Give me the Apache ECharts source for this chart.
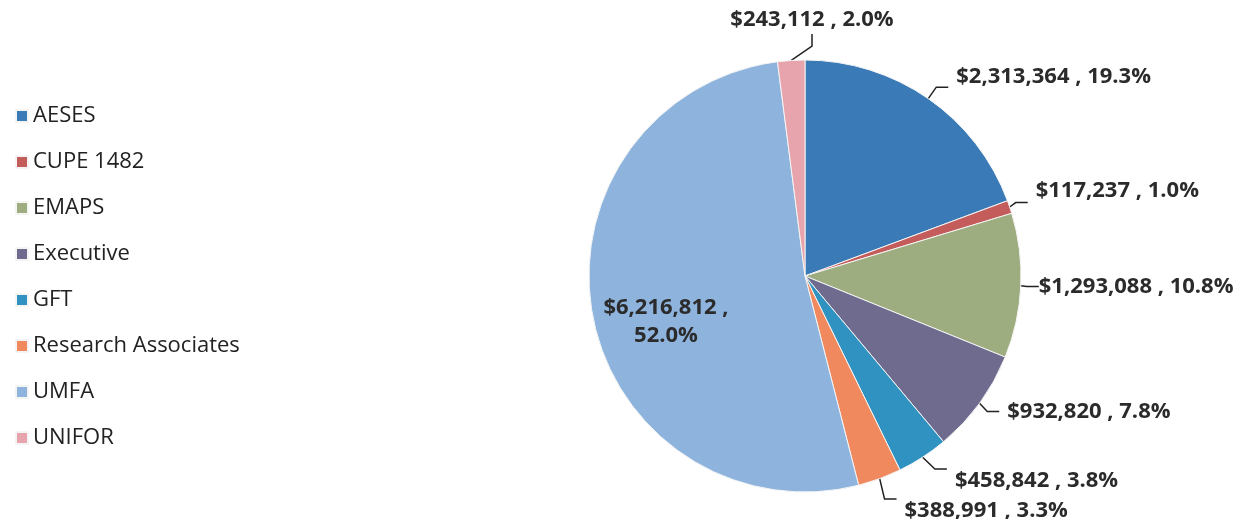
<!DOCTYPE html>
<html>
<head>
<meta charset="utf-8">
<script src="https://cdn.jsdelivr.net/npm/echarts@6/dist/echarts.min.js"></script>
<style>
  html, body { margin: 0; padding: 0; background: #fff; }
  #chart { width: 1248px; height: 519px; }
</style>
</head>
<body>
<div id="chart"></div>
<script>
const categories = ['AESES', 'CUPE 1482', 'EMAPS', 'Executive', 'GFT', 'Research Associates', 'UMFA', 'UNIFOR'];
const amounts = [2313364, 117237, 1293088, 932820, 458842, 388991, 6216812, 243112];
const colors = ['#3a7ab6', '#c45c5c', '#9dad7f', '#6f6b8f', '#2f92c0', '#f08a5e', '#8eb4dd', '#e8a4ac'];

const chart = echarts.init(document.getElementById('chart'));

function money(v) {
    return '$' + v.toString().replace(/\B(?=(\d{3})+(?!\d))/g, ',');
}

const pieData = categories.map((name, i) => {
    const item = { name: name, value: amounts[i] };
    if (name === 'UMFA') {
        item.label = {
            position: 'inside',
            offset: [-30, 25],
            formatter: p => money(p.value) + ' ,\n' + p.percent.toFixed(1) + '%'
        };
    }
    return item;
});

const options = {
    color: colors,
    animation: false,
    legend: {
        orient: 'vertical',
        left: 10,
        top: 100,
        icon: 'rect',
        itemWidth: 12,
        itemHeight: 12,
        itemGap: 24,
        textStyle: {
            fontFamily: 'Open Sans',
            fontSize: 22,
            lineHeight: 22,
            color: '#222'
        },
        data: categories
    },
    series: [{
        type: 'pie',
        center: [805, 276],
        radius: 216,
        startAngle: 90,
        clockwise: true,
        data: pieData,
        itemStyle: {
            borderColor: '#f4f4f4',
            borderWidth: 1
        },
        label: {
            show: true,
            position: 'outside',
            fontFamily: 'Open Sans',
            fontWeight: 'bold',
            fontSize: 22,
            lineHeight: 28,
            color: '#2b2b2b',
            overflow: 'none',
            edgeDistance: 0,
            distanceToLabelLine: 8,
            formatter: p => money(p.value) + ' , ' + p.percent.toFixed(1) + '%'
        },
        labelLine: {
            show: true,
            length: 14,
            length2: 12,
            lineStyle: { color: '#222', width: 1.5 }
        },
        // nudge a few labels to where the original had them
        labelLayout: function (params) {
            if (params.dataIndex === 7) {
                return { x: 812, y: 20, align: 'center', verticalAlign: 'middle' };
            }
            if (params.dataIndex === 0) {
                return { dy: -10 };
            }
            if (params.dataIndex === 1) {
                return { dy: -12 };
            }
            if (params.dataIndex === 2) {
                return { dx: -8 };
            }
            if (params.dataIndex === 4 || params.dataIndex === 5) {
                return { dy: 12 };
            }
            return {};
        }
    }]
};

chart.setOption(options);
</script>
</body>
</html>
